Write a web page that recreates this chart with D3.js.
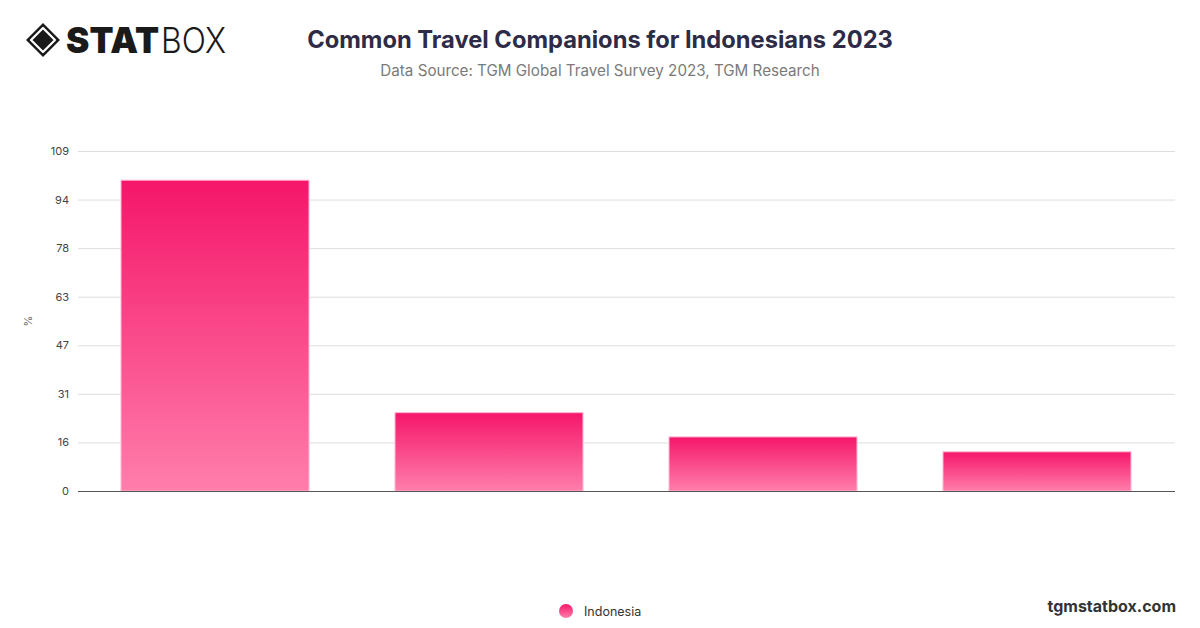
<!DOCTYPE html>
<html>
<head>
<meta charset="utf-8">
<script src="https://cdn.jsdelivr.net/npm/d3@7"></script>
<style>
  html, body { margin: 0; padding: 0; background: #fff; }
  svg { display: block; font-family: Inter, "Noto Sans", sans-serif; }
</style>
</head>
<body>
<svg id="chart" width="1200" height="628"></svg>
<script>
// ---- data ----
const categories = ["Family", "Partner", "Friends", "Alone"];
const values = [100.0, 25.2, 17.4, 12.6];
const seriesName = "Indonesia";
const yTickLabels = ["0", "16", "31", "47", "63", "78", "94", "109"];
const yMax = 109.4;

const svg = d3.select("#chart");
const plot = { left: 78, right: 1175, top: 151, bottom: 491 };

const defs = svg.append("defs");
["barGrad", "legGrad"].forEach(id => {
  const g = defs.append("linearGradient").attr("id", id)
    .attr("x1", 0).attr("y1", 0).attr("x2", 0).attr("y2", 1);
  g.append("stop").attr("offset", "0%").attr("stop-color", "#f5166a");
  g.append("stop").attr("offset", "100%").attr("stop-color", "#ff7eab");
});

// ---- scales ----
const x = d3.scaleBand().domain(categories).range([plot.left, plot.right - 1]).paddingInner(0.314).paddingOuter(0.157);
const y = d3.scaleLinear().domain([0, yMax]).range([plot.bottom, plot.top]);
const tickVals = yTickLabels.map((_, i) => i * yMax / (yTickLabels.length - 1));

// ---- gridlines ----
const gAxis = svg.append("g").attr("transform", `translate(${plot.left},0)`)
  .call(d3.axisLeft(y).tickValues(tickVals)
    .tickFormat((d, i) => yTickLabels[i])
    .tickSize(-(plot.right - plot.left)).tickPadding(9));
gAxis.select(".domain").remove();
gAxis.selectAll(".tick line").attr("stroke", "#dedede").attr("stroke-width", 1);
gAxis.selectAll(".tick text").attr("fill", "#444").attr("font-size", 11).attr("font-family", "Inter, sans-serif");

// ---- bars ----
svg.append("g").selectAll("rect").data(values).join("rect")
  .attr("x", (d, i) => x(categories[i]))
  .attr("y", d => y(d))
  .attr("width", x.bandwidth())
  .attr("height", d => y(0) - y(d))
  .attr("fill", "url(#barGrad)")
  .attr("stroke", "#ffb3cf")
  .attr("stroke-width", 1);

// baseline
svg.append("line")
  .attr("x1", plot.left).attr("x2", plot.right)
  .attr("y1", y(0) + 0.5).attr("y2", y(0) + 0.5)
  .attr("stroke", "#555").attr("stroke-width", 1.2);

// y-axis title
svg.append("text")
  .attr("transform", `translate(32,${(plot.top + plot.bottom) / 2}) rotate(-90)`)
  .attr("text-anchor", "middle").attr("fill", "#666").attr("font-size", 11)
  .text("%");

// ---- titles ----
svg.append("text").attr("x", 600).attr("y", 48).attr("text-anchor", "middle")
  .attr("font-size", 23.7).attr("font-weight", 700).attr("fill", "#2e2b47")
  .text("Common Travel Companions for Indonesians 2023");
svg.append("text").attr("x", 600).attr("y", 76).attr("text-anchor", "middle")
  .attr("font-size", 15.2).attr("fill", "#7a7a7a")
  .text("Data Source: TGM Global Travel Survey 2023, TGM Research");

// ---- legend ----
svg.append("circle").attr("cx", 566).attr("cy", 611).attr("r", 7).attr("fill", "url(#legGrad)");
svg.append("text").attr("x", 584).attr("y", 615.5).attr("font-size", 12.5).attr("fill", "#333")
  .text(seriesName);

// ---- footer ----
svg.append("text").attr("x", 1176).attr("y", 612).attr("text-anchor", "end")
  .attr("font-size", 16).attr("font-weight", 700).attr("fill", "#333")
  .text("tgmstatbox.com");

// ---- logo ----
const logo = svg.append("g");
const cx = 43, cy = 40, r = 17;
logo.append("path")
  .attr("d", `M${cx},${cy - r} L${cx + r},${cy} L${cx},${cy + r} L${cx - r},${cy} Z`)
  .attr("fill", "#1a1a1a");
logo.append("path")
  .attr("d", `M${cx},${cy - 12} L${cx + 12},${cy} L${cx},${cy + 12} L${cx - 12},${cy} Z`)
  .attr("fill", "none").attr("stroke", "#fff").attr("stroke-width", 2.2).attr("stroke-linejoin", "round");
logo.append("text").attr("x", 66).attr("y", 53).attr("font-size", 36)
  .attr("font-weight", 900).attr("fill", "#1a1a1a").attr("font-family", "Inter, sans-serif")
  .attr("textLength", 93).attr("lengthAdjust", "spacingAndGlyphs").text("STAT");
logo.append("text").attr("x", 161).attr("y", 53).attr("font-size", 36)
  .attr("font-weight", 300).attr("fill", "#1a1a1a").attr("font-family", "Inter, sans-serif")
  .attr("textLength", 65).attr("lengthAdjust", "spacingAndGlyphs").text("BOX");
</script>
</body>
</html>
